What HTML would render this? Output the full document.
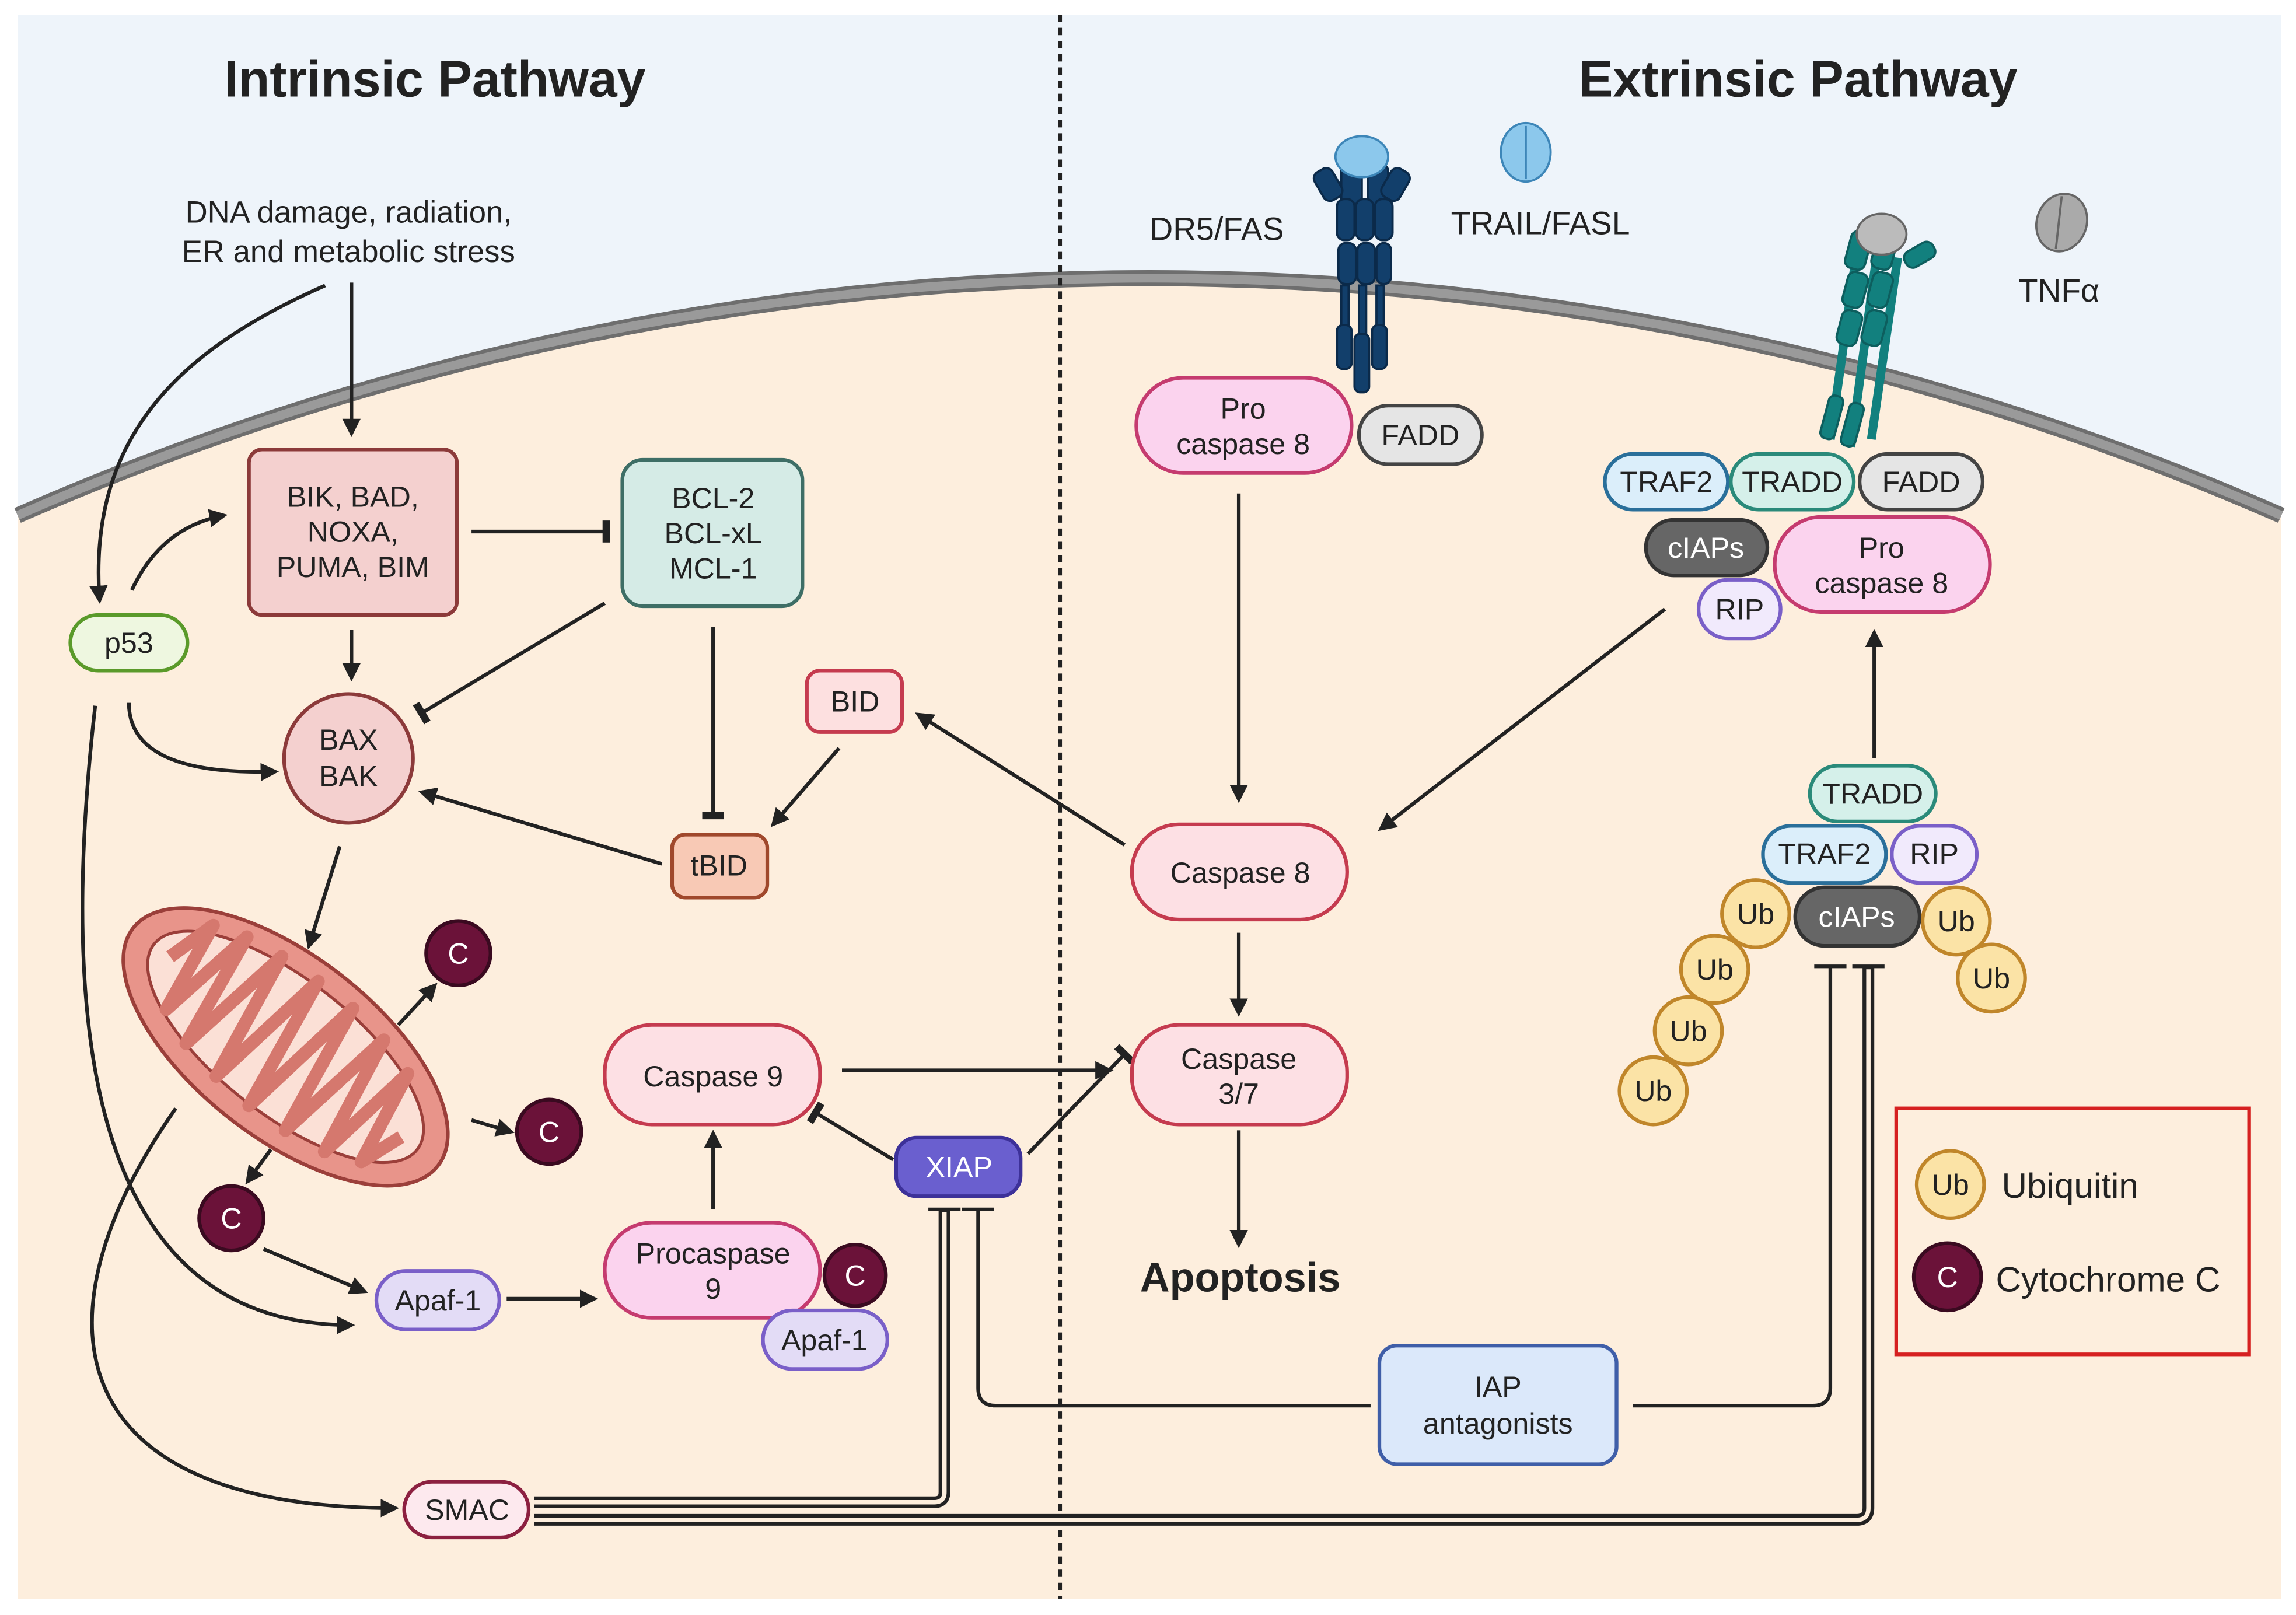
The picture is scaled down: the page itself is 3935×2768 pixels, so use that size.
<!DOCTYPE html>
<html><head><meta charset="utf-8"><style>
html,body{margin:0;padding:0;background:#fff}
svg{display:block}
text{font-family:"Liberation Sans",sans-serif;fill:#222}
</style></head><body>
<svg width="3935" height="2768" viewBox="0 0 1568 1103" xmlns="http://www.w3.org/2000/svg">
<defs>
<marker id="a" viewBox="0 0 10 10" refX="8" refY="5" markerWidth="5" markerHeight="5" orient="auto-start-reverse" markerUnits="strokeWidth"><path d="M0,0 L10,5 L0,10 z" fill="#222"/></marker>
<marker id="t" viewBox="0 0 4 12" refX="2" refY="6" markerWidth="2.2" markerHeight="6" orient="auto" markerUnits="strokeWidth"><rect x="0" y="0" width="4" height="12" fill="#222"/></marker>
</defs>
<rect x="0" y="0" width="1568" height="1103" fill="#fff"/>
<rect x="12" y="10" width="1546" height="1082" fill="#eef4fa"/>
<path d="M12,352 A1925,1925 0 0 1 1558,352 L1558,1092 L12,1092 Z" fill="#fdeedd"/>
<path d="M12,352 A1925,1925 0 0 1 1558,352" fill="none" stroke="#6e6e6e" stroke-width="11"/>
<path d="M12,352 A1925,1925 0 0 1 1558,352" fill="none" stroke="#9a9a9a" stroke-width="6"/>
<line x1="724" y1="10" x2="724" y2="1092" stroke="#222" stroke-width="2.5" stroke-dasharray="5,4"/>

<text x="297" y="66" font-size="35" font-weight="bold" text-anchor="middle">Intrinsic Pathway</text>
<text x="1228" y="66" font-size="35" font-weight="bold" text-anchor="middle">Extrinsic Pathway</text>
<text x="238" y="152" font-size="21" text-anchor="middle">DNA damage, radiation,</text>
<text x="238" y="179" font-size="21" text-anchor="middle">ER and metabolic stress</text>
<text x="831" y="164" font-size="22" text-anchor="middle">DR5/FAS</text>
<text x="1052" y="160" font-size="22" text-anchor="middle">TRAIL/FASL</text>
<text x="1406" y="206" font-size="22" text-anchor="middle">TNFα</text>

<!-- DR5 receptor -->
<g fill="#123f6b" stroke="#0b2a4a" stroke-width="1.5">
<rect x="916" y="112" width="14" height="40" rx="5"/><rect x="934" y="112" width="14" height="40" rx="5"/>
<rect x="900" y="115" width="14" height="22" rx="5" transform="rotate(-30 907 126)"/><rect x="946" y="115" width="14" height="22" rx="5" transform="rotate(30 953 126)"/>
<rect x="913" y="136" width="12" height="28" rx="5"/><rect x="926" y="136" width="12" height="28" rx="5"/><rect x="939" y="136" width="12" height="28" rx="5"/>
<rect x="914" y="166" width="12" height="28" rx="5"/><rect x="927" y="166" width="12" height="28" rx="5"/><rect x="940" y="166" width="10" height="28" rx="5"/>
<rect x="916" y="195" width="5" height="35"/><rect x="928" y="195" width="5" height="40"/><rect x="940" y="195" width="5" height="35"/>
<rect x="913" y="222" width="10" height="30" rx="4"/><rect x="925" y="228" width="10" height="40" rx="4"/><rect x="937" y="222" width="10" height="30" rx="4"/>
</g>
<ellipse cx="930" cy="107" rx="18" ry="14" fill="#8cc8ec" stroke="#3d86b8" stroke-width="1.5"/>
<ellipse cx="1042" cy="104" rx="17" ry="20" fill="#8cc8ec" stroke="#3d86b8" stroke-width="1.5"/>
<line x1="1042" y1="86" x2="1042" y2="122" stroke="#3d86b8" stroke-width="1.5"/>
<!-- TNF receptor -->
<g stroke="#0d5e5e" stroke-width="1.5" fill="#12807e">
<path d="M1268,172 L1250,300" stroke-width="6" stroke="#12807e"/><path d="M1282,172 L1264,305" stroke-width="6" stroke="#12807e"/><path d="M1296,176 L1278,300" stroke-width="6" stroke="#12807e"/>
<rect x="1262" y="158" width="14" height="26" rx="5" transform="rotate(15 1269 171)"/><rect x="1280" y="158" width="14" height="26" rx="5" transform="rotate(15 1287 171)"/>
<rect x="1300" y="168" width="22" height="12" rx="5" transform="rotate(-30 1311 174)"/>
<rect x="1260" y="186" width="14" height="24" rx="5" transform="rotate(15 1267 198)"/><rect x="1277" y="186" width="14" height="24" rx="5" transform="rotate(15 1284 198)"/>
<rect x="1256" y="212" width="14" height="24" rx="5" transform="rotate(15 1263 224)"/><rect x="1273" y="212" width="14" height="24" rx="5" transform="rotate(15 1280 224)"/>
<rect x="1246" y="270" width="10" height="30" rx="4" transform="rotate(15 1251 285)"/><rect x="1260" y="275" width="10" height="30" rx="4" transform="rotate(15 1265 290)"/>
</g>
<ellipse cx="1285" cy="160" rx="17" ry="14" fill="#bbb" stroke="#666" stroke-width="1.5"/>
<ellipse cx="1408" cy="152" rx="17" ry="20" fill="#aaa" stroke="#666" stroke-width="1.5" transform="rotate(20 1408 152)"/>
<line x1="1408" y1="134" x2="1404" y2="170" stroke="#666" stroke-width="1.5"/>

<!-- mitochondrion -->
<g transform="rotate(38 195 715)">
<ellipse cx="195" cy="715" rx="132" ry="62" fill="#e8948a" stroke="#9b3f3a" stroke-width="2.5"/>
<ellipse cx="195" cy="715" rx="114" ry="46" fill="#fbe0d6" stroke="#9b3f3a" stroke-width="2"/>
<path d="M95,715 L105,680 L115,745 L128,672 L140,755 L155,668 L170,760 L185,666 L200,762 L215,666 L230,760 L245,670 L260,755 L272,678 L284,745 L295,715" fill="none" stroke="#d5786e" stroke-width="9" stroke-linejoin="round"/>
</g>

<!-- connectors -->
<g stroke="#222" stroke-width="2.5" fill="none">
<line x1="240" y1="193" x2="240" y2="296" marker-end="url(#a)"/>
<path d="M222,195 C120,240 60,300 68,410" marker-end="url(#a)"/>
<path d="M90,403 Q110,360 153,352" marker-end="url(#a)"/>
<path d="M88,480 Q88,530 188,527" marker-end="url(#a)"/>
<path d="M65,482 C40,700 60,905 240,905" marker-end="url(#a)"/>
<line x1="240" y1="430" x2="240" y2="463" marker-end="url(#a)"/>
<line x1="322" y1="363" x2="414" y2="363" marker-end="url(#t)"/>
<line x1="413" y1="412" x2="288" y2="487" marker-end="url(#t)"/>
<line x1="487" y1="428" x2="487" y2="557" marker-end="url(#t)"/>
<line x1="573" y1="511" x2="528" y2="563" marker-end="url(#a)"/>
<line x1="452" y1="590" x2="288" y2="541" marker-end="url(#a)"/>
<line x1="768" y1="577" x2="627" y2="488" marker-end="url(#a)"/>
<line x1="846" y1="337" x2="846" y2="546" marker-end="url(#a)"/>
<line x1="1137" y1="416" x2="943" y2="566" marker-end="url(#a)"/>
<line x1="846" y1="637" x2="846" y2="692" marker-end="url(#a)"/>
<line x1="846" y1="772" x2="846" y2="850" marker-end="url(#a)"/>
<line x1="575" y1="731" x2="758" y2="731" marker-end="url(#a)"/>
<line x1="610" y1="792" x2="557" y2="760" marker-end="url(#t)"/>
<line x1="702" y1="788" x2="768" y2="720" marker-end="url(#t)"/>
<line x1="487" y1="826" x2="487" y2="774" marker-end="url(#a)"/>
<line x1="346" y1="887" x2="406" y2="887" marker-end="url(#a)"/>
<line x1="180" y1="853" x2="249" y2="882" marker-end="url(#a)"/>
<line x1="232" y1="578" x2="211" y2="646" marker-end="url(#a)"/>
<line x1="272" y1="700" x2="297" y2="673" marker-end="url(#a)"/>
<line x1="322" y1="765" x2="349" y2="773" marker-end="url(#a)"/>
<line x1="185" y1="785" x2="169" y2="807" marker-end="url(#a)"/>
<path d="M120,757 C20,900 40,1030 270,1030" marker-end="url(#a)"/>
<line x1="1280" y1="518" x2="1280" y2="432" marker-end="url(#a)"/>
<path d="M936,960 H680 Q668,960 668,948 V826"/>
<line x1="657" y1="826" x2="679" y2="826"/>
<path d="M1115,960 H1238 Q1250,960 1250,948 V660"/>
<line x1="1239" y1="660" x2="1261" y2="660"/>
</g>
<g fill="none">
<path d="M365,1026 H638 Q645,1026 645,1019 V826" stroke="#222" stroke-width="8"/>
<path d="M365,1026 H638 Q645,1026 645,1019 V828" stroke="#fdeedd" stroke-width="3"/>
<line x1="634" y1="826" x2="656" y2="826" stroke="#222" stroke-width="2.5"/>
<path d="M365,1038 H1268 Q1276,1038 1276,1030 V660" stroke="#222" stroke-width="8"/>
<path d="M365,1038 H1268 Q1276,1038 1276,1030 V662" stroke="#fdeedd" stroke-width="3"/>
<line x1="1265" y1="660" x2="1287" y2="660" stroke="#222" stroke-width="2.5"/>
</g>

<!-- nodes -->
<g stroke-width="2.5" font-size="20">
<rect x="170" y="307" width="142" height="113" rx="9" fill="#f4d0cf" stroke="#8c3a3a"/>
<rect x="425" y="314" width="123" height="100" rx="14" fill="#d5ebe6" stroke="#3e6e66"/>
<rect x="48" y="420" width="80" height="38" rx="19" fill="#eef7e0" stroke="#5a9a2a"/>
<circle cx="238" cy="518" r="44" fill="#f4d0cf" stroke="#8c3a3a"/>
<rect x="551" y="458" width="65" height="42" rx="9" fill="#fde0e0" stroke="#c53b4f"/>
<rect x="459" y="570" width="65" height="43" rx="9" fill="#f8c9b5" stroke="#a0482c"/>
<rect x="773" y="563" width="147" height="65" rx="32" fill="#fde0e4" stroke="#c53b4f"/>
<rect x="776" y="258" width="147" height="65" rx="32" fill="#fbd3ee" stroke="#c53b6f"/>
<rect x="928" y="277" width="84" height="40" rx="20" fill="#e5e5e5" stroke="#444"/>
<rect x="773" y="700" width="147" height="68" rx="32" fill="#fde0e4" stroke="#c53b4f"/>
<rect x="413" y="700" width="147" height="68" rx="32" fill="#fde0e4" stroke="#c53b4f"/>
<rect x="413" y="835" width="147" height="65" rx="32" fill="#fbd3ee" stroke="#c53b6f"/>
<rect x="521" y="895" width="85" height="40" rx="20" fill="#e3dcf6" stroke="#7a5fc8"/>
<circle cx="584" cy="871" r="21" fill="#6b1239" stroke="#3a0a20"/>
<rect x="257" y="868" width="84" height="40" rx="20" fill="#e3dcf6" stroke="#7a5fc8"/>
<rect x="612" y="777" width="85" height="40" rx="14" fill="#6a5fcf" stroke="#3d3199"/>
<rect x="276" y="1012" width="85" height="38" rx="19" fill="#fde9ee" stroke="#8c2040"/>
<rect x="942" y="919" width="162" height="81" rx="12" fill="#dbe8fa" stroke="#3f5ea8"/>
<circle cx="313" cy="651" r="22" fill="#6b1239" stroke="#3a0a20"/>
<circle cx="375" cy="773" r="22" fill="#6b1239" stroke="#3a0a20"/>
<circle cx="158" cy="832" r="22" fill="#6b1239" stroke="#3a0a20"/>
<!-- right top complex -->
<rect x="1096" y="310" width="84" height="38" rx="19" fill="#dbeefa" stroke="#2a6f9a"/>
<rect x="1182" y="310" width="84" height="38" rx="19" fill="#d5f0ea" stroke="#2a8a7a"/>
<rect x="1270" y="310" width="84" height="38" rx="19" fill="#e5e5e5" stroke="#444"/>
<rect x="1124" y="355" width="83" height="38" rx="19" fill="#666" stroke="#333"/>
<rect x="1160" y="396" width="56" height="40" rx="20" fill="#f1eafc" stroke="#7a5fc8"/>
<rect x="1212" y="353" width="147" height="65" rx="32" fill="#fbd3ee" stroke="#c53b6f"/>
<!-- right bottom complex -->
<rect x="1236" y="523" width="86" height="38" rx="19" fill="#d5f0ea" stroke="#2a8a7a"/>
<rect x="1204" y="564" width="84" height="39" rx="19" fill="#dbeefa" stroke="#2a6f9a"/>
<rect x="1292" y="564" width="58" height="39" rx="19" fill="#f1eafc" stroke="#7a5fc8"/>
<rect x="1226" y="606" width="85" height="40" rx="20" fill="#666" stroke="#333"/>
<g fill="#fbe3a6" stroke="#c0862a">
<circle cx="1199" cy="624" r="23"/><circle cx="1171" cy="662" r="23"/><circle cx="1153" cy="704" r="23"/><circle cx="1129" cy="745" r="23"/><circle cx="1336" cy="629" r="23"/><circle cx="1360" cy="668" r="23"/>
<circle cx="1332" cy="809" r="23"/>
</g>
<circle cx="1330" cy="872" r="23" fill="#6b1239" stroke="#3a0a20"/>
<rect x="1295" y="757" width="241" height="168" fill="none" stroke="#d62020" stroke-width="2.5"/>
</g>

<g font-size="20" text-anchor="middle">
<text x="241" y="346">BIK, BAD,</text><text x="241" y="370">NOXA,</text><text x="241" y="394">PUMA, BIM</text>
<text x="487" y="347">BCL-2</text><text x="487" y="371">BCL-xL</text><text x="487" y="395">MCL-1</text>
<text x="88" y="446">p53</text>
<text x="238" y="512">BAX</text><text x="238" y="537">BAK</text>
<text x="584" y="486">BID</text>
<text x="491" y="598">tBID</text>
<text x="847" y="603">Caspase 8</text>
<text x="849" y="286">Pro</text><text x="849" y="310">caspase 8</text>
<text x="970" y="304">FADD</text>
<text x="846" y="730">Caspase</text><text x="846" y="754">3/7</text>
<text x="487" y="742">Caspase 9</text>
<text x="487" y="863">Procaspase</text><text x="487" y="887">9</text>
<text x="563" y="922">Apaf-1</text>
<text x="299" y="895">Apaf-1</text>
<text x="655" y="804" style="fill:#fff">XIAP</text>
<text x="319" y="1038">SMAC</text>
<text x="1023" y="954">IAP</text><text x="1023" y="979">antagonists</text>
<text x="1138" y="336">TRAF2</text><text x="1224" y="336">TRADD</text><text x="1312" y="336">FADD</text>
<text x="1165" y="381" style="fill:#fff">cIAPs</text>
<text x="1188" y="423">RIP</text>
<text x="1285" y="381">Pro</text><text x="1285" y="405">caspase 8</text>
<text x="1279" y="549">TRADD</text><text x="1246" y="590">TRAF2</text><text x="1321" y="590">RIP</text>
<text x="1268" y="633" style="fill:#fff">cIAPs</text>
<text x="1199" y="631">Ub</text><text x="1171" y="669">Ub</text><text x="1153" y="711">Ub</text><text x="1129" y="752">Ub</text><text x="1336" y="636">Ub</text><text x="1360" y="675">Ub</text>
<text x="1332" y="816">Ub</text>
<g style="fill:#fff"><text x="313" y="658" style="fill:#fff">C</text><text x="375" y="780" style="fill:#fff">C</text><text x="158" y="839" style="fill:#fff">C</text><text x="584" y="878" style="fill:#fff">C</text><text x="1330" y="879" style="fill:#fff">C</text></g>
</g>
<text x="847" y="882" font-size="28" font-weight="bold" text-anchor="middle">Apoptosis</text>
<text x="1367" y="818" font-size="24">Ubiquitin</text>
<text x="1363" y="882" font-size="24">Cytochrome C</text>
</svg>
</body></html>
